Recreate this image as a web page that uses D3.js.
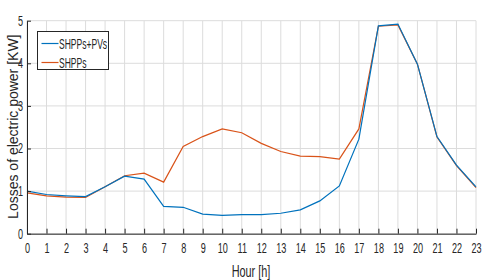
<!DOCTYPE html>
<html>
<head>
<meta charset="utf-8">
<script src="https://cdn.jsdelivr.net/npm/d3@7"></script>
<style>
body { margin: 0; background: #fff; }
text { font-family: "Liberation Sans", Arial, sans-serif; }
</style>
</head>
<body>
<script>
// hours 0..23
let hours = d3.range(0, 24);
let shppsPv = [1.0, 0.92, 0.89, 0.87, 1.1, 1.35, 1.28, 0.64, 0.62, 0.46, 0.43, 0.45,
    0.45, 0.48, 0.56, 0.77, 1.12, 2.22, 4.88, 4.92, 3.98, 2.28, 1.61, 1.1];
let shpps = [0.96, 0.89, 0.86, 0.85, 1.1, 1.36, 1.42, 1.21, 2.05, 2.28, 2.46, 2.37,
    2.12, 1.93, 1.82, 1.81, 1.75, 2.46, 4.87, 4.9, 3.98, 2.27, 1.6, 1.08];
let yTicks = [0, 1, 2, 3, 4, 5];
let seriesNames = ["SHPPs+PVs", "SHPPs"];
let seriesColors = ["#0072BD", "#D95319"];

// the original uses a narrow font, squeeze liberation sans
let sx = 0.65;

function main(){
    let width = 483, height = 280;
    let left = 27, right = 476, top = 20.7, bottom = 233.7;

    let svg = d3.select("body").append("svg")
        .attr("width", width)
        .attr("height", height);

    let x = d3.scaleLinear().domain([0, 23]).range([left, right]);
    let y = d3.scaleLinear().domain([0, 5]).range([bottom, top]);

    // grid
    svg.append("g").selectAll("line")
        .data(hours)
        .enter().append("line")
        .attr("x1", d => x(d)).attr("x2", d => x(d))
        .attr("y1", top).attr("y2", bottom)
        .attr("stroke", "#dcdcdc").attr("stroke-width", 1);
    svg.append("g").selectAll("line")
        .data(yTicks)
        .enter().append("line")
        .attr("x1", left).attr("x2", right)
        .attr("y1", d => y(d)).attr("y2", d => y(d))
        .attr("stroke", "#dcdcdc").attr("stroke-width", 1);

    // lines (orange first so blue sits on top)
    let line = d3.line()
        .x((d, i) => x(hours[i]))
        .y(d => y(d));
    svg.append("path")
        .datum(shpps)
        .attr("fill", "none")
        .attr("stroke", seriesColors[1])
        .attr("stroke-width", 1.2)
        .attr("d", line);
    svg.append("path")
        .datum(shppsPv)
        .attr("fill", "none")
        .attr("stroke", seriesColors[0])
        .attr("stroke-width", 1.2)
        .attr("d", line);

    // axes
    let xAxis = svg.append("g")
        .attr("transform", "translate(0," + bottom + ")")
        .call(d3.axisBottom(x).tickValues(hours).tickFormat(d3.format("d"))
            .tickSizeInner(-5).tickSizeOuter(0).tickPadding(9));
    let yAxis = svg.append("g")
        .attr("transform", "translate(" + left + ",0)")
        .call(d3.axisLeft(y).tickValues(yTicks).tickFormat(d3.format("d"))
            .tickSizeInner(-4).tickSizeOuter(0).tickPadding(4));
    [xAxis, yAxis].forEach(a => {
        a.select(".domain").attr("stroke", "#262626");
        a.selectAll(".tick line").attr("stroke", "#262626");
        a.selectAll("text")
            .attr("fill", "#262626")
            .attr("font-size", 14)
            .attr("transform", "scale(" + sx + ",1)");
    });
    yAxis.selectAll("text").attr("x", -4 / sx);

    svg.append("text")
        .attr("transform", "translate(" + ((left + right) / 2 - 0.5) + ",277) scale(0.68,1)")
        .attr("text-anchor", "middle")
        .attr("font-size", 16)
        .attr("fill", "#262626")
        .text("Hour [h]");

    svg.append("text")
        .attr("transform", "translate(18," + ((top + bottom) / 2 - 0.5) + ") rotate(-90)")
        .attr("text-anchor", "middle")
        .attr("font-size", 14)
        .attr("fill", "#262626")
        .text("Losses of electric power [KW]");

    // legend
    let lg = svg.append("g").attr("transform", "translate(37.5,31.5)");
    lg.append("rect")
        .attr("width", 71).attr("height", 38)
        .attr("fill", "#fff")
        .attr("stroke", "#262626").attr("stroke-width", 1);
    seriesNames.forEach((n, i) => {
        let yy = 12 + i * 19;
        lg.append("line")
            .attr("x1", 4).attr("x2", 21)
            .attr("y1", yy).attr("y2", yy)
            .attr("stroke", seriesColors[i]).attr("stroke-width", 1.2);
        lg.append("text")
            .attr("transform", "translate(21.5," + (yy + 5) + ") scale(0.61,1)")
            .attr("font-size", 14)
            .attr("fill", "#262626")
            .text(n);
    });
}

main();
</script>
</body>
</html>
